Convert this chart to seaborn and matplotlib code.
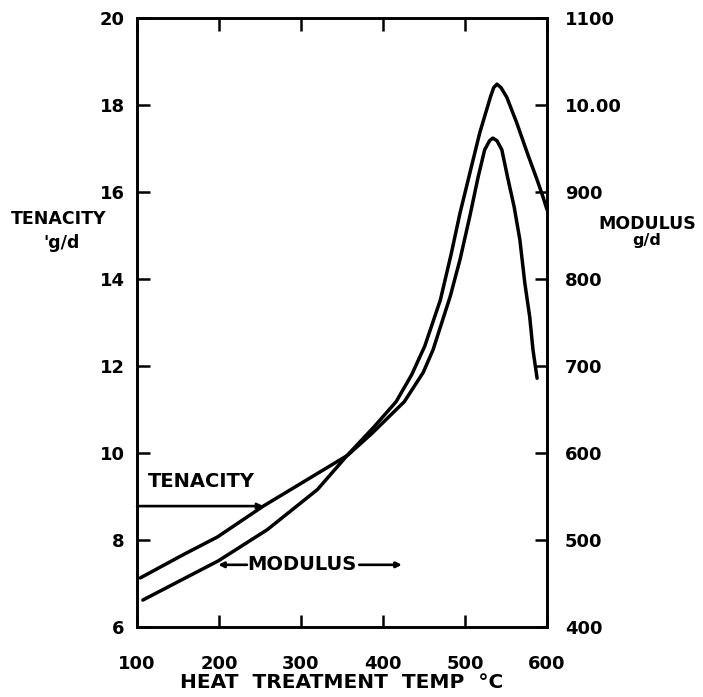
import matplotlib
matplotlib.use("Agg")
import matplotlib.pyplot as plt
import seaborn as sns
import pandas as pd

# Heat treatment temperature (deg C) and tenacity (g/d)
ten_temp = [104, 156, 198, 254, 357, 387, 426, 449, 461, 482, 494, 506, 516, 524,
            530, 534, 539, 545, 552, 560, 567, 573, 579, 583, 588]
ten_vals = [7.13, 7.66, 8.07, 8.78, 9.95, 10.46, 11.18, 11.85, 12.37, 13.60, 14.45,
            15.45, 16.34, 16.97, 17.18, 17.24, 17.18, 16.97, 16.34, 15.66, 14.90,
            13.91, 13.13, 12.37, 11.72]

# Heat treatment temperature (deg C) and modulus (g/d, right axis)
mod_temp = [107, 156, 199, 259, 320, 357, 389, 416, 435, 451, 470, 483, 494, 506,
            518, 531, 535, 539, 544, 551, 563, 576, 588, 595, 600]
mod_vals = [431, 455, 476, 512, 558, 598, 630, 659, 690, 723, 776, 828, 876, 922,
            968, 1009, 1020, 1024, 1020, 1009, 980, 945, 914, 895, 880]

x_ticks = [100, 200, 300, 400, 500, 600]
left_ticks = [6, 8, 10, 12, 14, 16, 18, 20]
right_ticks = [400, 500, 600, 700, 800, 900, 1000, 1100]
right_tick_labels = ["400", "500", "600", "700", "800", "900", "10.00", "1100"]

sns.set_style("ticks")
plt.rcParams["font.family"] = ["DejaVu Sans"]
plt.rcParams.update({"text.color": "black", "axes.labelcolor": "black",
                     "xtick.color": "black", "ytick.color": "black",
                     "axes.edgecolor": "black"})

fig = plt.figure(figsize=(7.03, 6.97), dpi=100)
ax = fig.add_axes([0.195, 0.1004, 0.583, 0.8737])
ax2 = ax.twinx()

ten_df = pd.DataFrame({"temp": ten_temp, "tenacity": ten_vals})
mod_df = pd.DataFrame({"temp": mod_temp, "modulus": mod_vals})

sns.lineplot(data=ten_df, x="temp", y="tenacity", ax=ax, color="black", lw=2.5,
             sort=False, estimator=None)
sns.lineplot(data=mod_df, x="temp", y="modulus", ax=ax2, color="black", lw=2.5,
             sort=False, estimator=None)
for a in (ax, ax2):
    for ln in a.get_lines():
        ln.set_solid_joinstyle("round")
        ln.set_solid_capstyle("round")

ax.set_xlim(100, 600)
ax.set_ylim(6, 20)
ax2.set_ylim(400, 1100)

tick_font = dict(fontsize=13, fontweight="bold", color="black")
ax.set_xticks(x_ticks)
ax.set_xticklabels([str(v) for v in x_ticks], **tick_font)
ax.set_yticks(left_ticks)
ax.set_yticklabels([str(v) for v in left_ticks], **tick_font)
ax2.set_yticks(right_ticks)
ax2.set_yticklabels(right_tick_labels, **tick_font)

ax.tick_params(axis="x", direction="in", length=9, width=1.8, pad=20,
               top=True, bottom=True)
ax.tick_params(axis="y", direction="in", length=9, width=1.8, pad=9)
ax2.tick_params(axis="y", direction="in", length=9, width=1.8, pad=13)

for a in (ax, ax2):
    for s in a.spines.values():
        s.set_visible(True)
        s.set_linewidth(1.9)
        s.set_color("black")
    a.set_xlabel("")
    a.set_ylabel("")

ax.set_xlabel("HEAT  TREATMENT  TEMP  °C", fontsize=14.5, fontweight="bold",
              labelpad=0, color="black")

# Axis titles written horizontally beside each axis
fig.text(0.083, 0.686, "TENACITY", ha="center", va="center",
         fontsize=12.5, fontweight="bold")
fig.text(0.088, 0.651, "'g/d", ha="center", va="center",
         fontsize=12.5, fontweight="bold")
fig.text(0.920, 0.679, "MODULUS", ha="center", va="center",
         fontsize=12.5, fontweight="bold")
fig.text(0.920, 0.655, "g/d", ha="center", va="center",
         fontsize=11.5, fontweight="bold")

# Curve labels inside the plot
ax.text(179, 9.35, "TENACITY", ha="center", va="center",
        fontsize=14, fontweight="bold")
ax.annotate("", xy=(254, 8.78), xytext=(100, 8.78),
            arrowprops=dict(arrowstyle="-|>", color="black", lw=1.9,
                            mutation_scale=8, shrinkA=0, shrinkB=0))
ax.text(301, 7.43, "MODULUS", ha="center", va="center",
        fontsize=14, fontweight="bold")
ax.annotate("", xy=(199, 7.43), xytext=(234, 7.43),
            arrowprops=dict(arrowstyle="-|>", color="black", lw=1.9,
                            mutation_scale=8, shrinkA=0, shrinkB=0))
ax.annotate("", xy=(423, 7.43), xytext=(371, 7.43),
            arrowprops=dict(arrowstyle="-|>", color="black", lw=1.9,
                            mutation_scale=8, shrinkA=0, shrinkB=0))

fig.savefig("out.png", dpi=100, facecolor="white")
